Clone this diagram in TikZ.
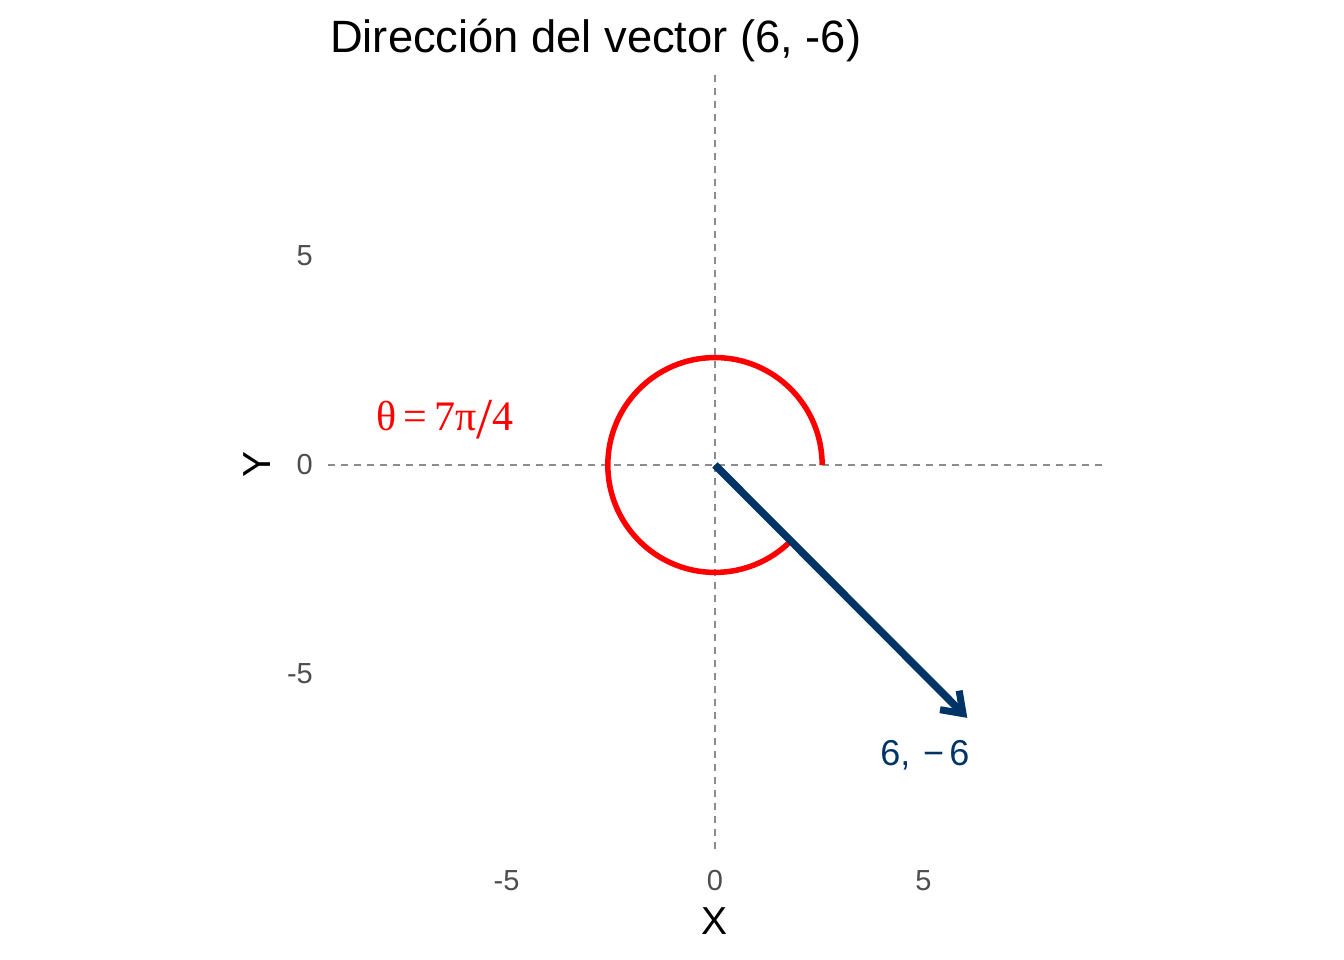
\documentclass[tikz,border=0pt]{standalone}
\usepackage{graphicx}
\usepackage{fontspec}
\setmainfont{Liberation Sans}
\newfontfamily\seriffont{Liberation Serif}
\usetikzlibrary{arrows.meta}
\definecolor{vecblue}{RGB}{0,51,102}
\definecolor{gridgray}{RGB}{140,140,140}
\definecolor{ticktext}{RGB}{77,77,77}
\tikzset{
  refline/.style={gridgray, line width=2.2pt, dash pattern=on 7pt off 6pt},
  anglearc/.style={red, line width=5.5pt},
  vecline/.style={vecblue, line width=7.5pt, -{Straight Barb[length=19pt,width=27pt,line width=7pt]}},
  ticklab/.style={ticktext, font=\fontsize{29}{32}\selectfont, inner sep=0pt},
  axtitle/.style={black, font=\fontsize{39}{42}\selectfont, inner sep=0pt},
}
\begin{document}
\begin{tikzpicture}[x=41.7pt,y=41.8pt]
\useasboundingbox (-17.146,-11.842) rectangle (15.084,11.124);
\coordinate (O) at (0,0);
\coordinate (P) at (6.05,-6.05);
\coordinate (hl) at (-9.28,0);
\coordinate (hr) at (9.30,0);
\coordinate (vt) at (0,9.33);
\coordinate (vb) at (0,-9.21);
\draw[refline] (hl) -- (hr);
\draw[refline] (vt) -- (vb);
\draw[anglearc] (2.57,0) arc[start angle=0, end angle=315, radius=2.57];
\draw[vecline] (O) -- (P);
\node[anchor=base west, inner sep=0pt, font=\fontsize{45.3}{48}\selectfont] (title) at (-9.233,9.86) {Dirección del vector (6, -6)};
\node[red, inner sep=0pt, font=\seriffont\fontsize{42}{44}\selectfont] (theta) at (-6.475,1.077) {θ\,=\,7π\raisebox{-0.2em}{\fontsize{58}{58}\selectfont/}4};
\node[vecblue, inner sep=0pt, font=\fontsize{36}{40}\selectfont] (lab) at (5.036,-6.94) {6,\kern0.35em−\kern0.15em6};
\node[ticklab, anchor=east] (y5) at (-9.64,5) {5};
\node[ticklab, anchor=east] (y0) at (-9.64,0) {0};
\node[ticklab, anchor=east] (ym5) at (-9.64,-5) {-5};
\node[ticklab] (xm5) at (-5,-9.952) {-5};
\node[ticklab] (x0) at (0,-9.952) {0};
\node[ticklab] (x5) at (5,-9.952) {5};
\node[axtitle] (xt) at (0,-10.91) {X};
\node[axtitle, rotate=90] (yt) at (-10.98,0) {Y};
\end{tikzpicture}
\end{document}
